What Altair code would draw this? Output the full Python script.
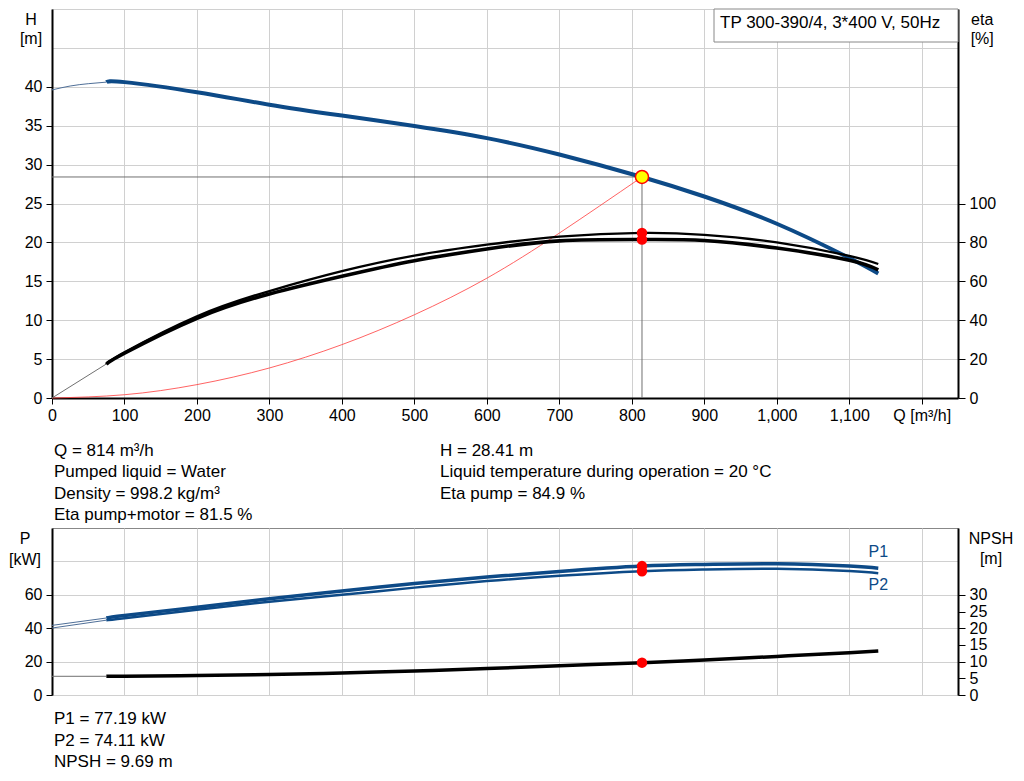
import altair as alt
import pandas as pd

FONT = "Liberation Sans"
BLUE = "#0d4a87"
GRID = "#d0d0d0"

# flow points of the measured curves, m3/h
q = [75, 100, 200, 300, 400, 500, 600, 700, 814, 900, 1000, 1100, 1140]

# top chart
head = [40.6, 40.6, 39.3, 37.7, 36.3, 34.95, 33.4, 31.3, 28.41, 25.9, 22.4, 18.0, 16.0]
eta_pump = [17.8, 23.5, 42.0, 55.0, 65.2, 73.2, 78.8, 83.0, 84.9, 83.9, 80.0, 73.1, 68.9]
eta_total = [17.3, 23.0, 41.0, 53.5, 62.6, 70.6, 76.6, 80.8, 81.5, 81.0, 77.1, 70.8, 65.9]

q_head_low = [0, 25, 50, 75]
head_low = [39.6, 40.1, 40.4, 40.6]
q_eta_low = [0, 75]
eta_low = [0, 17.5]

q_sys = [0, 100, 200, 300, 400, 500, 600, 700, 814]
head_sys = [0, 0.42, 1.72, 3.86, 6.86, 10.7, 15.4, 21.2, 28.41]

q_op = 814
head_op = 28.41
eta_op = [84.9, 81.5]

# bottom chart
p1 = [46.1, 47.6, 52.6, 57.6, 62.3, 66.7, 70.6, 74.0, 77.19, 78.2, 78.6, 77.2, 75.9]
p2 = [44.8, 46.0, 51.0, 55.8, 60.0, 64.3, 68.2, 71.4, 74.11, 75.2, 75.6, 74.2, 72.9]
npsh = [5.6, 5.65, 5.85, 6.15, 6.6, 7.2, 7.9, 8.75, 9.69, 10.5, 11.55, 12.65, 13.15]
q_low = [0, 75]
p1_low = [41.7, 46.1]
p2_low = [40.1, 44.8]
npsh_low = [5.6, 5.6]
p_op = [77.19, 74.11]
npsh_op = 9.69

# texts
legend_text = "TP 300-390/4, 3*400 V, 50Hz"
info_left = ["Q = 814 m³/h", "Pumped liquid = Water", "Density = 998.2 kg/m³", "Eta pump+motor = 81.5 %"]
info_right = ["H = 28.41 m", "Liquid temperature during operation = 20 °C", "Eta pump = 84.9 %"]
info_bottom = ["P1 = 77.19 kW", "P2 = 74.11 kW", "NPSH = 9.69 m"]

x_ticks = list(range(0, 1300, 100))


def x_enc(labels=True):
    if labels:
        axis = alt.Axis(values=x_ticks, title=None, grid=True, gridColor=GRID,
                        labelExpr="datum.value == 1200 ? 'Q [m³/h]' : format(datum.value, ',')",
                        domainColor="black", domainWidth=2, tickColor="black", tickSize=6,
                        labelPadding=3, labelFlush=False, labelOverlap=False, labelFontSize=16)
    else:
        axis = alt.Axis(values=x_ticks, title=None, grid=True, gridColor=GRID,
                        labels=False, ticks=False, domain=False)
    return alt.X("q:Q", scale=alt.Scale(domain=[0, 1250], nice=False, zero=False), axis=axis)


def side_axis(orient, values, max_label, title, title_x, line_h, grid):
    hide = f"datum.value > {max_label}"
    return alt.Axis(
        orient=orient, values=values, grid=grid, gridColor=GRID,
        labelExpr=f"{hide} ? '' : datum.label",
        labelFontSize={"condition": {"test": hide, "value": 0}, "value": 16},
        tickOpacity={"condition": {"test": hide, "value": 0}, "value": 1},
        domainColor="black", domainWidth=2, tickColor="black", tickSize=7 if orient == "right" else 6,
        labelPadding=4, labelOverlap=False,
        title=title, titleAngle=0, titleAlign="center", titleBaseline="alphabetic",
        titleX=title_x, titleY=15, titleLineHeight=line_h,
    )


h_y = alt.Y("h:Q", scale=alt.Scale(domain=[0, 50], nice=False),
            axis=side_axis("left", list(range(0, 55, 5)), 40, ["H", "[m]"], -21.5, 19, True))
eta_y = alt.Y("eta:Q", scale=alt.Scale(domain=[0, 200], nice=False),
              axis=side_axis("right", list(range(0, 120, 20)), 100, ["eta", "[%]"], 23.7, 19, False))
p_y = alt.Y("p:Q", scale=alt.Scale(domain=[0, 100], nice=False),
            axis=side_axis("left", list(range(0, 100, 20)), 60, ["P", "[kW]"], -27.5, 21, True))
n_y = alt.Y("n:Q", scale=alt.Scale(domain=[0, 50], nice=False),
            axis=side_axis("right", list(range(0, 45, 5)), 30, ["NPSH", "[m]"], 32.5, 20, False))


def line(qs, vals, col, y, labels=True, **kw):
    df = pd.DataFrame({"q": qs, col: vals})
    return alt.Chart(df).mark_line(interpolate="natural", **kw).encode(x=x_enc(labels), y=y)


def text_block(lines, x, y, size=17, **kw):
    return alt.Chart(alt.Data(values=[{}])).mark_text(
        text=lines, align="left", baseline="alphabetic", font=FONT, fontSize=size,
        lineHeight=21.5, color="black", **kw
    ).encode(x=alt.value(x), y=alt.value(y))


# ---- top chart ----
sys_curve = line(q_sys, head_sys, "h", h_y, color="#ff3b3b", strokeWidth=0.8)
op_h = alt.Chart(pd.DataFrame({"q": [0], "q2": [q_op], "h": [head_op]})).mark_rule(
    color="#707070", strokeWidth=1).encode(x=x_enc(), x2="q2:Q", y=h_y)
op_v = alt.Chart(pd.DataFrame({"q": [q_op], "h": [0], "h2": [head_op]})).mark_rule(
    color="#707070", strokeWidth=1).encode(x=x_enc(), y=h_y, y2="h2:Q")
h_low = line(q_head_low, head_low, "h", h_y, color="#4f6f98", strokeWidth=1)
h_main = line(q, head, "h", h_y, color=BLUE, strokeWidth=4)
op_point = alt.Chart(pd.DataFrame({"q": [q_op], "h": [head_op]})).mark_circle(
    fill="#ffff00", stroke="red", strokeWidth=1.5, size=170, opacity=1).encode(x=x_enc(), y=h_y)

box = alt.Chart(alt.Data(values=[{}])).mark_rect(fill="white", stroke="#888888", strokeWidth=1).encode(
    x=alt.value(662), x2=alt.value(906), y=alt.value(0), y2=alt.value(33))
legend = text_block(legend_text, 668, 19)
info_l = text_block(info_left, 2, 446.7)
info_r = text_block(info_right, 388, 446.7)

eta_lo = line(q_eta_low, eta_low, "eta", eta_y, color="#707070", strokeWidth=1)
eta_p = line(q, eta_pump, "eta", eta_y, color="black", strokeWidth=2.3)
eta_t = line(q, eta_total, "eta", eta_y, color="black", strokeWidth=3.6)
eta_dots = alt.Chart(pd.DataFrame({"q": [q_op, q_op], "eta": eta_op})).mark_circle(
    color="red", size=110, opacity=1).encode(x=x_enc(), y=eta_y)

h_group = alt.layer(sys_curve, op_h, op_v, h_low, h_main, op_point, box, legend, info_l, info_r)
eta_group = alt.layer(eta_lo, eta_p, eta_t, eta_dots)
top = alt.layer(h_group, eta_group).resolve_scale(y="independent").properties(width=906, height=389)

# ---- bottom chart ----
p1_lo = line(q_low, p1_low, "p", p_y, False, color="#4f6f98", strokeWidth=1)
p2_lo = line(q_low, p2_low, "p", p_y, False, color="#4f6f98", strokeWidth=1)
p1_line = line(q, p1, "p", p_y, False, color=BLUE, strokeWidth=3.5)
p2_line = line(q, p2, "p", p_y, False, color=BLUE, strokeWidth=2.5)
p_dots = alt.Chart(pd.DataFrame({"q": [q_op, q_op], "p": p_op})).mark_circle(
    color="red", size=110, opacity=1).encode(x=x_enc(False), y=p_y)
p1_lab = alt.Chart(pd.DataFrame({"q": [q[-1]], "p": [p1[-1]], "t": ["P1"]})).mark_text(
    font=FONT, fontSize=16, color=BLUE, dy=-16).encode(x=x_enc(False), y=p_y, text="t:N")
p2_lab = alt.Chart(pd.DataFrame({"q": [q[-1]], "p": [p2[-1]], "t": ["P2"]})).mark_text(
    font=FONT, fontSize=16, color=BLUE, dy=12).encode(x=x_enc(False), y=p_y, text="t:N")
info_b = text_block(info_bottom, 2, 196)

n_lo = line(q_low, npsh_low, "n", n_y, False, color="#707070", strokeWidth=1)
n_line = line(q, npsh, "n", n_y, False, color="black", strokeWidth=3.5)
n_dot = alt.Chart(pd.DataFrame({"q": [q_op], "n": [npsh_op]})).mark_circle(
    color="red", size=110, opacity=1).encode(x=x_enc(False), y=n_y)

p_group = alt.layer(p1_lo, p2_lo, p1_line, p2_line, p_dots, p1_lab, p2_lab, info_b)
n_group = alt.layer(n_lo, n_line, n_dot)
bottom = alt.layer(p_group, n_group).resolve_scale(y="independent").properties(width=906, height=167)

chart = alt.vconcat(top, bottom, spacing=130, bounds="flush").properties(
    padding={"left": 0, "top": 0, "right": 0, "bottom": 0}
).configure_view(
    stroke="#888888", strokeWidth=1
).configure_axis(
    labelFont=FONT, labelFontSize=16, labelColor="black",
    titleFont=FONT, titleFontSize=16, titleFontWeight="normal", titleColor="black"
)

chart.save("out.html", embed_options={"renderer": "svg", "actions": False})
